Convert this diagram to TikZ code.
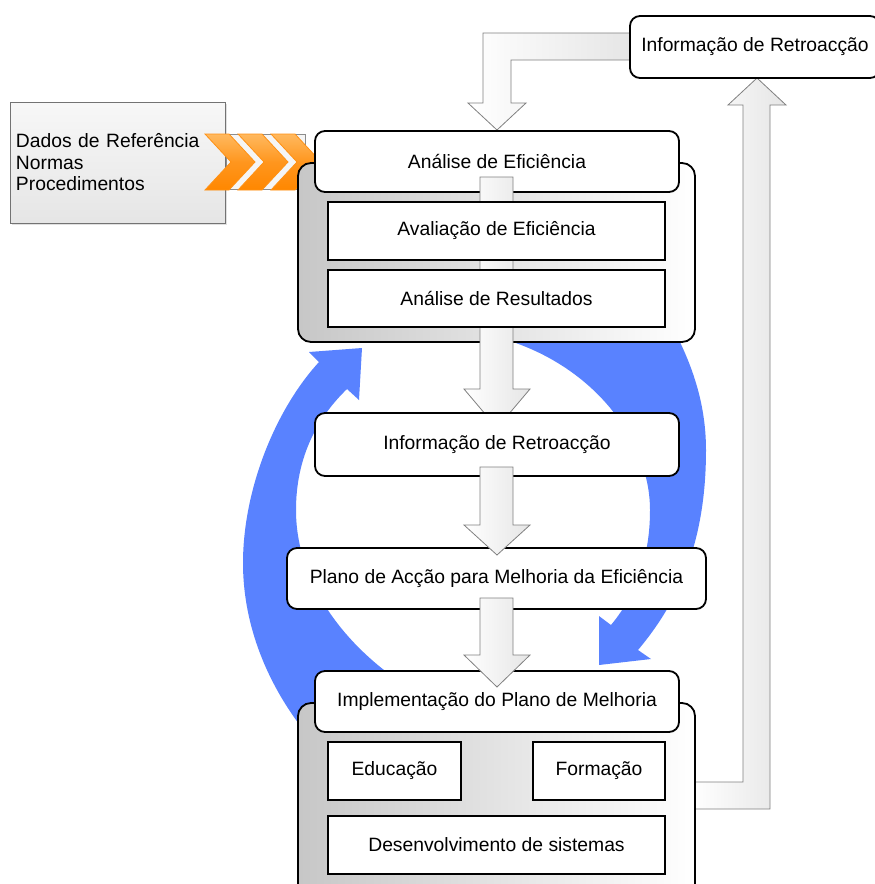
\documentclass[tikz,border=0pt]{standalone}
\usepackage{fontspec}
\setmainfont{Liberation Sans}
\definecolor{loopblue}{RGB}{89,130,255}
\definecolor{chevtop}{RGB}{255,185,95}
\definecolor{chevmid}{RGB}{255,150,30}
\definecolor{chevbot}{RGB}{255,135,0}
\definecolor{chevline}{RGB}{255,145,20}
\begin{document}
\begin{tikzpicture}[x=1pt,y=-1pt,
  txt/.style={font=\fontsize{19.3}{22}\selectfont},
  hdr/.style={txt, draw=black, line width=1.8pt, fill=white, rounded corners=10pt, inner sep=0pt},
  subbox/.style={txt, draw=black, line width=1.8pt, fill=white, inner sep=0pt},
  grp/.style={draw=black, line width=1.8pt, rounded corners=13pt, left color=black!22, right color=white, inner sep=0pt},
  blockarrow/.style={draw=black!50, line width=0.8pt, left color=white, right color=black!10},
  loop/.style={fill=loopblue},
  chev/.style={draw=chevline, line width=0.8pt, top color=chevtop, bottom color=chevbot, middle color=chevmid}
]
\useasboundingbox (0,0) rectangle (875,884);
\clip (0,0) rectangle (875,884);

% ---- blue improvement loop (two curved arrows) ----
\fill[loop] (650,290) .. controls (690,350) and (706,400) .. (706,450)
   .. controls (706,540) and (680,600) .. (638,650)
   -- (651,659) -- (599,665) -- (599,616) -- (611,625)
   .. controls (640,590) and (650,550) .. (650,510)
   .. controls (650,445) and (600,372) .. (513,342)
   -- (460,322) -- cycle;
\fill[loop] (430,700) .. controls (355,660) and (296,590) .. (296,510)
   .. controls (296,460) and (315,420) .. (347,389)
   -- (359,400) -- (362,348) -- (309,352) -- (319,362)
   .. controls (275,410) and (243,490) .. (243,563)
   .. controls (243,640) and (280,710) .. (330,760)
   -- cycle;

% ---- input data box and chevrons ----
\fill[black!12] (12,104) rectangle (227,225);
\node[txt, draw=black!55, line width=0.8pt, top color=white!97!black, bottom color=white!90!black,
      minimum width=215pt, minimum height=121pt, text width=203pt, align=left, inner sep=6pt,
      font=\fontsize{19.3}{21.5}\selectfont]
  (dados) at (117.5,162.5) {Dados de Referência\\Normas\\Procedimentos};
\fill[white!96!black, draw=black!45, line width=0.8pt] (226,134.5) rectangle (305,189.5);
\foreach \cx in {205,238,271}{
  \path[chev] (\cx,134) -- (\cx+24,134) -- (\cx+50,162) -- (\cx+24,190) -- (\cx,190) -- (\cx+26,162) -- cycle;
}

% ---- feedback loop to the top and its box ----
\path[blockarrow] (632,33) -- (483,33) -- (483,103) -- (468,103) -- (497,130) -- (526,103)
   -- (511,103) -- (511,60) -- (632,60) -- cycle;
\path[blockarrow] (693,782) -- (743,782) -- (743,105) -- (728,105) -- (757,78) -- (786,105)
   -- (770,105) -- (770,809) -- (693,809) -- cycle;
\node[hdr, minimum width=250pt, minimum height=62pt] (fbtop) at (755,47) {Informação de Retroacção};

% ---- efficiency analysis group ----
\node[grp, minimum width=397pt, minimum height=179pt] (g1) at (496.5,252.5) {};
\node[hdr, minimum width=364pt, minimum height=61pt] (ae) at (497,161.5) {Análise de Eficiência};
\path[blockarrow] (480,177) -- (480,389) -- (464,389) -- (497,428) -- (530,389) -- (513,389) -- (513,177) -- cycle;
\node[subbox, minimum width=337pt, minimum height=58pt] (av) at (496.5,231) {Avaliação de Eficiência};
\node[subbox, minimum width=337pt, minimum height=57pt] (ar) at (496.5,298.5) {Análise de Resultados};

% ---- feedback and action plan ----
\node[hdr, minimum width=364pt, minimum height=63pt] (ir) at (497,444.5) {Informação de Retroacção};
\node[hdr, minimum width=419pt, minimum height=61pt] (pa) at (496.5,578.5) {Plano de Acção para Melhoria da Eficiência};
\path[blockarrow] (480,467) -- (480,525) -- (464,525) -- (497,555) -- (530,525) -- (513,525) -- (513,467) -- cycle;

% ---- implementation group ----
\node[grp, minimum width=397pt, minimum height=202pt] (g2) at (496.5,804) {};
\node[hdr, minimum width=364pt, minimum height=61pt] (ip) at (497,701.5) {Implementação do Plano de Melhoria};
\path[blockarrow] (480,598) -- (480,655) -- (464,655) -- (497,687) -- (530,655) -- (513,655) -- (513,598) -- cycle;
\node[subbox, minimum width=133pt, minimum height=58pt] (ed) at (394.5,771) {Educação};
\node[subbox, minimum width=132pt, minimum height=58pt] (fo) at (599,771) {Formação};
\node[subbox, minimum width=337pt, minimum height=58pt] (ds) at (496.5,845) {Desenvolvimento de sistemas};
\end{tikzpicture}
\end{document}
